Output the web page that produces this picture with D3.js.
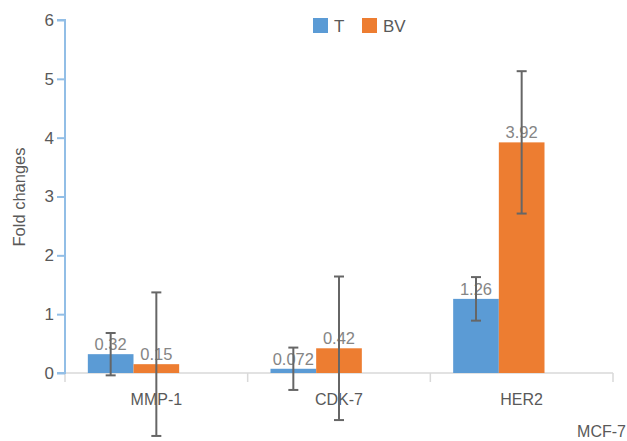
<!DOCTYPE html>
<html><head><meta charset="utf-8">
<script src="https://cdn.jsdelivr.net/npm/d3@7"></script>
<style>body{margin:0;background:#fff}svg{display:block}text{font-family:"Liberation Sans",Arial,sans-serif}</style>
</head><body>
<svg id="c" width="627" height="441"></svg>
<script>
const categories = ["MMP-1", "CDK-7", "HER2"];
const seriesNames = ["T", "BV"];
const valuesT = [0.32, 0.072, 1.26];
const valuesBV = [0.15, 0.42, 3.92];
const errT = [0.36, 0.36, 0.37];
const errBV = [1.22, 1.22, 1.21];
const labelsT = ["0.32", "0.072", "1.26"];
const labelsBV = ["0.15", "0.42", "3.92"];
const yTicks = [0, 1, 2, 3, 4, 5, 6];
const xTitle = "MCF-7";
const yTitle = "Fold changes";

const colors = ["#5b9bd5", "#ed7d31"];
const svg = d3.select("#c");
const L = 65, R = 613, T = 20, B = 373;
const x = d3.scaleBand().domain(categories).range([L, R]).paddingInner(0).paddingOuter(0);
const y = d3.scaleLinear().domain([0, 6]).range([B, T]);
const slot = d3.scaleBand().domain(["T", "BV", "_"]).range([0, x.bandwidth()]).paddingInner(0).paddingOuter(0.5);

// x axis
svg.append("line").attr("x1", L).attr("x2", R).attr("y1", B).attr("y2", B).attr("stroke", "#d9d9d9").attr("stroke-width", 1.5);
const bounds = categories.map(c => x(c)).concat([R]);
svg.selectAll(".xt").data(bounds).enter().append("line")
  .attr("x1", d => d).attr("x2", d => d).attr("y1", B).attr("y2", B + 9)
  .attr("stroke", "#d9d9d9").attr("stroke-width", 1.5);
svg.selectAll(".xl").data(categories).enter().append("text")
  .attr("x", d => x(d) + x.bandwidth() / 2).attr("y", 405)
  .attr("text-anchor", "middle").attr("font-size", 16).attr("fill", "#595959").text(d => d);

// bars
const series = [
  {name: "T", vals: valuesT, errs: errT, labs: labelsT},
  {name: "BV", vals: valuesBV, errs: errBV, labs: labelsBV}
];
series.forEach((s, si) => {
  const g = svg.append("g");
  g.selectAll("rect").data(categories).enter().append("rect")
    .attr("x", c => x(c) + slot(s.name)).attr("width", slot.bandwidth())
    .attr("y", (c, i) => y(s.vals[i])).attr("height", (c, i) => B - y(s.vals[i]))
    .attr("fill", colors[si]);
});
// labels
series.forEach((s, si) => {
  svg.append("g").selectAll("text").data(categories).enter().append("text")
    .attr("x", c => x(c) + slot(s.name) + slot.bandwidth() / 2)
    .attr("y", (c, i) => y(s.vals[i]) - 4)
    .attr("text-anchor", "middle").attr("font-size", 16.5).attr("fill", "#858585")
    .text((c, i) => s.labs[i]);
});
// error bars
series.forEach((s, si) => {
  const g = svg.append("g").attr("stroke", "#666666").attr("stroke-width", 2);
  categories.forEach((c, i) => {
    const cx = x(c) + slot(s.name) + slot.bandwidth() / 2;
    const lo = y(s.vals[i] - s.errs[i]), hi = y(s.vals[i] + s.errs[i]);
    g.append("line").attr("x1", cx).attr("x2", cx).attr("y1", lo).attr("y2", hi);
    g.append("line").attr("x1", cx - 5).attr("x2", cx + 5).attr("y1", lo).attr("y2", lo);
    g.append("line").attr("x1", cx - 5).attr("x2", cx + 5).attr("y1", hi).attr("y2", hi);
  });
});

// y axis
const ya = svg.append("g").attr("transform", `translate(${L},0)`)
  .call(d3.axisLeft(y).tickValues(yTicks).tickSize(8).tickPadding(3).tickFormat(d3.format("d")));
ya.select(".domain").attr("stroke", "#92bee6").attr("stroke-width", 2).attr("d", `M-8,${T}H0V${B}H-8`);
ya.selectAll(".tick line").attr("stroke", "#92bee6").attr("stroke-width", 2);
ya.selectAll(".tick text").attr("font-size", 17).attr("fill", "#595959").attr("font-family", "Liberation Sans, Arial, sans-serif");

svg.append("text").attr("transform", "translate(25,197) rotate(-90)").attr("text-anchor", "middle")
  .attr("font-size", 16.5).attr("fill", "#595959").text(yTitle);
svg.append("text").attr("x", 626).attr("y", 437).attr("text-anchor", "end")
  .attr("font-size", 16).attr("fill", "#595959").text(xTitle);

// legend
const lx = [313, 362];
seriesNames.forEach((n, i) => {
  svg.append("rect").attr("x", lx[i]).attr("y", 18).attr("width", 15).attr("height", 15).attr("fill", colors[i]);
  svg.append("text").attr("x", lx[i] + 21).attr("y", 32).attr("font-size", 17).attr("fill", "#595959").text(n);
});
</script>
</body></html>
